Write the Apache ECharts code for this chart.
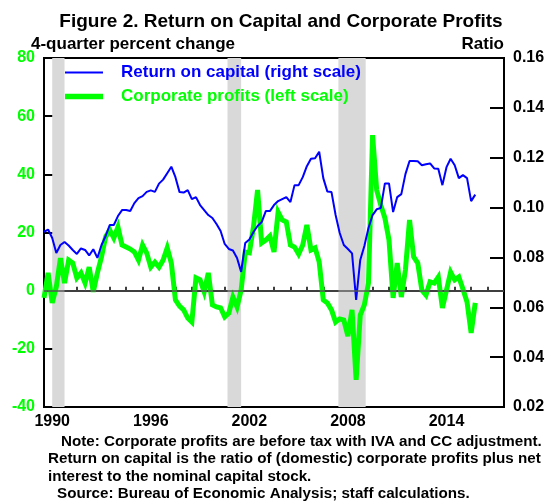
<!DOCTYPE html>
<html>
<head>
<meta charset="utf-8">
<title>Figure 2. Return on Capital and Corporate Profits</title>
<script src="https://cdn.jsdelivr.net/npm/echarts@6/dist/echarts.min.js"></script>
<style>
  html, body { margin: 0; padding: 0; background: #fff; }
  #chart { width: 548px; height: 504px; }
</style>
</head>
<body>
<div id="chart"></div>
<script>
// quarterly data, first point is 1990:Q1
const startYear = 1990
const yearLabels = [1990, 1996, 2002, 2008, 2014]
const leftTicks = [-40, -20, 0, 20, 40, 60, 80]
const rightTicks = [0.02, 0.04, 0.06, 0.08, 0.10, 0.12, 0.14, 0.16]
// recession periods (decimal years)
const recessions = [[1990.5, 1991.25], [2001.17, 2002.0], [2007.92, 2009.58]]

// ratio, right scale
const returnOnCapital = [
  0.0903, 0.0912, 0.0878, 0.0818, 0.085, 0.0862, 0.0848, 0.083, 0.0814, 0.0836,
  0.083, 0.0808, 0.0833, 0.0798, 0.085, 0.0886, 0.093, 0.093, 0.0966, 0.099,
  0.099, 0.0986, 0.1018, 0.1038, 0.1046, 0.1063, 0.1069, 0.1063, 0.1096, 0.1112,
  0.1138, 0.1164, 0.1122, 0.1062, 0.106, 0.107, 0.1034, 0.1042, 0.101, 0.099,
  0.097, 0.0958, 0.0934, 0.0906, 0.0854, 0.0834, 0.0828, 0.0798, 0.0742, 0.0858,
  0.0872, 0.0902, 0.0926, 0.0942, 0.0986, 0.0986, 0.101, 0.1026, 0.1034, 0.1042,
  0.1022, 0.109, 0.109, 0.1122, 0.1166, 0.1196, 0.1198, 0.1224, 0.1118, 0.1064,
  0.1062, 0.097, 0.0898, 0.085, 0.0834, 0.0816, 0.063, 0.079, 0.0846, 0.0918,
  0.097, 0.0993, 0.0998, 0.1097, 0.1097, 0.0982, 0.1042, 0.1054, 0.1134, 0.1187,
  0.1187, 0.1186, 0.117, 0.1174, 0.1177, 0.1157, 0.1156, 0.109, 0.1162, 0.1196,
  0.117, 0.1118, 0.113, 0.1118, 0.1026, 0.1052
]

// 4-quarter percent change, left scale
const corporateProfits = [
  -2.5, 6.1, -4.2, 1.3, 11.2, 2.6, 10.5, 9.5, 4.4, 6.1,
  2.6, 8.1, -0.4, 6.1, 11.6, 18.5, 20.9, 18.1, 21.9, 15.7,
  15.0, 14.3, 13.3, 10.5, 15.7, 13.0, 8.1, 9.8, 8.1, 10.5,
  14.7, 9.5, -3.2, -5.3, -6.6, -9.4, -10.8, 4.4, 3.7, -0.4,
  6.1, -4.9, -5.6, -5.9, -9.0, -7.7, -2.2, -5.6, 0.2, 13.3,
  13.0, 21.9, 34.6, 16.4, 17.4, 18.8, 13.3, 27.0, 24.3, 23.6,
  15.7, 15.0, 12.6, 15.7, 22.6, 14.0, 14.7, 9.9, -3.2, -4.2,
  -6.6, -10.8, -9.7, -10.1, -15.6, -6.6, -30.7, -8.4, -4.9, 2.6,
  53.5, 34.6, 29.4, 25.0, 17.4, -2.5, 9.5, -2.2, 7.1, 24.3,
  11.6, 9.5, 0.2, -1.5, 3.0, 2.6, 4.7, -5.9, 0.2, 6.4,
  3.7, 4.7, 0.6, -3.9, -14.5, -4.2
]

const BLUE = '#0000ff'
const GREEN = '#00ff00'
const FONT = '"Liberation Sans", Arial, Helvetica, sans-serif'

const toPoints = (arr) => arr.map((v, i) => [startYear + i / 4, v])

const chart = echarts.init(document.getElementById('chart'))

const boldText = (text, x, y, size, align, color) => ({
  type: 'text',
  x: x,
  y: y,
  style: {
    text: text,
    font: 'bold ' + size + 'px ' + FONT,
    fill: color || '#000',
    textAlign: align || 'left',
    textVerticalAlign: 'middle'
  }
})

const option = {
  animation: false,
  textStyle: { fontFamily: FONT },
  grid: {
    left: 44,
    right: 44,
    top: 58,
    bottom: 97,
    show: true,
    borderColor: '#000',
    borderWidth: 2
  },
  legend: {
    orient: 'vertical',
    left: 65,
    top: 64,
    padding: 0,
    itemWidth: 38,
    itemHeight: 18,
    itemGap: 7,
    selectedMode: false,
    textStyle: {
      fontSize: 17,
      fontWeight: 'bold',
      padding: [0, 0, 0, 13]
    },
    data: [
      {
        name: 'Return on capital (right scale)',
        icon: 'path://M0,0H40V2H0Z',
        textStyle: { color: BLUE }
      },
      {
        name: 'Corporate profits (left scale)',
        icon: 'path://M0,0H40V6H0Z',
        textStyle: { color: GREEN }
      }
    ]
  },
  xAxis: [
    {
      type: 'value',
      min: 1990,
      max: 2018,
      interval: 1,
      axisLine: { lineStyle: { color: '#000', width: 2 } },
      axisTick: { inside: true, length: 4, lineStyle: { color: '#000', width: 1.5 } },
      axisLabel: { show: false },
      splitLine: { show: false }
    },
    {
      // label axis shifted half a year so each year label sits mid-year
      type: 'value',
      position: 'bottom',
      min: 1989.5,
      max: 2017.5,
      interval: 0.5,
      axisLine: { show: false },
      axisTick: { show: false },
      splitLine: { show: false },
      axisLabel: {
        margin: 7,
        fontSize: 16,
        fontWeight: 'bold',
        color: '#000',
        showMinLabel: true,
        showMaxLabel: false,
        formatter: (v) => (yearLabels.indexOf(v) >= 0 ? String(v) : '')
      }
    }
  ],
  yAxis: [
    {
      type: 'value',
      min: leftTicks[0],
      max: leftTicks[leftTicks.length - 1],
      interval: 20,
      axisLine: { show: true, lineStyle: { color: '#000', width: 2 } },
      axisTick: { inside: true, length: 14, lineStyle: { color: '#000', width: 2 } },
      axisLabel: {
        margin: 9,
        fontSize: 16,
        fontWeight: 'bold',
        color: GREEN
      },
      splitLine: { show: false }
    },
    {
      type: 'value',
      min: rightTicks[0],
      max: rightTicks[rightTicks.length - 1],
      interval: 0.02,
      axisLine: { show: true, lineStyle: { color: '#000', width: 2 } },
      axisTick: { inside: true, length: 14, lineStyle: { color: '#000', width: 2 } },
      axisLabel: {
        margin: 9,
        fontSize: 16,
        fontWeight: 'bold',
        color: '#000',
        formatter: (v) => v.toFixed(2)
      },
      splitLine: { show: false }
    }
  ],
  series: [
    {
      name: 'Corporate profits (left scale)',
      type: 'line',
      xAxisIndex: 0,
      yAxisIndex: 0,
      data: toPoints(corporateProfits),
      showSymbol: false,
      symbol: 'none',
      lineStyle: { color: GREEN, width: 5, join: 'miter', miterLimit: 4 },
      itemStyle: { color: GREEN },
      markArea: {
        silent: true,
        itemStyle: { color: '#d9d9d9' },
        data: recessions.map((r) => [{ xAxis: r[0] }, { xAxis: r[1] }])
      },
      markLine: {
        silent: true,
        symbol: 'none',
        label: { show: false },
        lineStyle: { color: '#555', width: 1.5, type: 'solid' },
        data: [{ yAxis: 0 }]
      }
    },
    {
      name: 'Return on capital (right scale)',
      type: 'line',
      xAxisIndex: 0,
      yAxisIndex: 1,
      data: toPoints(returnOnCapital),
      showSymbol: false,
      symbol: 'none',
      lineStyle: { color: BLUE, width: 2 },
      itemStyle: { color: BLUE }
    }
  ],
  graphic: [
    boldText('Figure 2. Return on Capital and Corporate Profits', 281, 22, 19, 'center'),
    boldText('4-quarter percent change', 31, 44, 17, 'left'),
    boldText('Ratio', 504, 44, 17, 'right'),
    boldText('Note: Corporate profits are before tax with IVA and CC adjustment.', 61, 442, 15.2, 'left'),
    boldText('Return on capital is the ratio of (domestic) corporate profits plus net', 48, 459, 15.2, 'left'),
    boldText('interest to the nominal capital stock.', 48, 476.5, 15.2, 'left'),
    boldText('Source: Bureau of Economic Analysis; staff calculations.', 57, 494, 15.2, 'left')
  ]
}

chart.setOption(option)
</script>
</body>
</html>
